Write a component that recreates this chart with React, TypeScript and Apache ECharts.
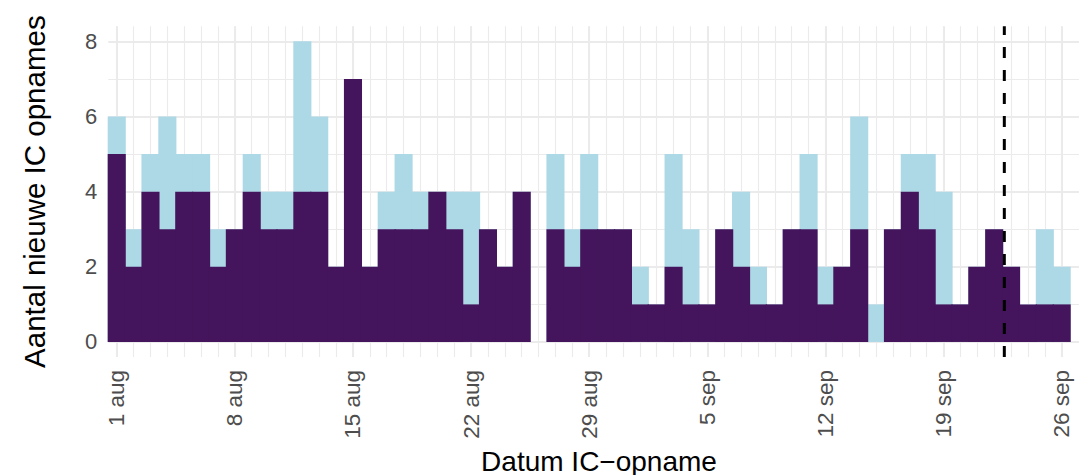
import React, { useEffect, useRef } from "react";
import * as echarts from "echarts";

const days: string[] = [
  "1 aug", "2 aug", "3 aug", "4 aug", "5 aug", "6 aug", "7 aug", "8 aug", "9 aug", "10 aug",
  "11 aug", "12 aug", "13 aug", "14 aug", "15 aug", "16 aug", "17 aug", "18 aug", "19 aug", "20 aug",
  "21 aug", "22 aug", "23 aug", "24 aug", "25 aug", "26 aug", "27 aug", "28 aug", "29 aug", "30 aug",
  "31 aug", "1 sep", "2 sep", "3 sep", "4 sep", "5 sep", "6 sep", "7 sep", "8 sep", "9 sep",
  "10 sep", "11 sep", "12 sep", "13 sep", "14 sep", "15 sep", "16 sep", "17 sep", "18 sep", "19 sep",
  "20 sep", "21 sep", "22 sep", "23 sep", "24 sep", "25 sep", "26 sep",
];

// total new ICU admissions per day (light blue top)
const totaal: number[] = [
  6, 3, 5, 6, 5, 5, 3, 3, 5, 4,
  4, 8, 6, 2, 7, 2, 4, 5, 4, 4,
  4, 4, 3, 2, 4, 0, 5, 3, 5, 3,
  3, 2, 1, 5, 3, 1, 3, 4, 2, 1,
  3, 5, 2, 2, 6, 1, 3, 5, 5, 4,
  1, 2, 3, 2, 1, 3, 2,
];

// dark purple part
const bevestigd: number[] = [
  5, 2, 4, 3, 4, 4, 2, 3, 4, 3,
  3, 4, 4, 2, 7, 2, 3, 3, 3, 4,
  3, 1, 3, 2, 4, 0, 3, 2, 3, 3,
  3, 1, 1, 2, 1, 1, 3, 2, 1, 1,
  3, 3, 1, 2, 3, 0, 3, 4, 3, 1,
  1, 2, 3, 2, 1, 1, 1,
];

const tickLabels: string[] = ["1 aug", "8 aug", "15 aug", "22 aug", "29 aug", "5 sep", "12 sep", "19 sep", "26 sep"];
const yMajor: number[] = [0, 2, 4, 6, 8];
const yMinor: number[] = [1, 3, 5, 7];
const cutoffDay = 52.6; // between 22 sep and 23 sep

export default function App() {
  const ref = useRef<HTMLDivElement>(null);

  useEffect(() => {
    if (!ref.current) return;
    const chart = echarts.init(ref.current, null, { renderer: "svg" });

    const W = 1079;
    const left = 108.3;
    const right = -10.7;
    const top = 26.3;
    const bottom = 118;
    const xMin = -0.5;
    const xMax = 57.66;
    const yMin = -0.4;
    const yMax = 8.4;
    const pxPerDay = (W - left - right) / (xMax - xMin);
    const barW = pxPerDay + 1.2;

    const tickIdx = tickLabels.map((l) => days.indexOf(l));
    const dayIdx = days.map((_, i) => i);
    const font = "'Liberation Sans', Arial, sans-serif";
    const gridColor = "#ebebeb";

    chart.setOption({
      animation: false,
      backgroundColor: "#ffffff",
      textStyle: { fontFamily: font },
      grid: {
        left,
        right,
        top,
        bottom,
        containLabel: false,
        outerBoundsMode: "none",
      },
      xAxis: [
        {
          type: "value",
          min: xMin,
          max: xMax,
          position: "bottom",
          axisLine: { show: false, onZero: false },
          axisTick: { show: false, customValues: tickIdx },
          axisLabel: {
            customValues: tickIdx,
            rotate: 90,
            margin: 13,
            fontSize: 22.5,
            color: "#4d4d4d",
            fontFamily: font,
            formatter: (v: number) => days[Math.round(v)] ?? "",
          },
          splitLine: { show: true, lineStyle: { color: gridColor, width: 2 } },
          name: "Datum IC\u2212opname",
          nameLocation: "middle",
          nameGap: 90,
          nameTextStyle: { fontSize: 28, color: "#000000", fontFamily: font },
        },
        {
          type: "value",
          min: xMin,
          max: xMax,
          position: "bottom",
          axisLine: { show: false, onZero: false },
          axisTick: { show: false, customValues: dayIdx },
          axisLabel: { show: false, customValues: dayIdx },
          splitLine: { show: true, lineStyle: { color: gridColor, width: 1.1 } },
        },
      ],
      yAxis: [
        {
          type: "value",
          min: yMin,
          max: yMax,
          position: "left",
          axisLine: { show: false, onZero: false },
          axisTick: { show: false, customValues: yMajor },
          axisLabel: {
            customValues: yMajor,
            margin: 11,
            fontSize: 22,
            color: "#4d4d4d",
            fontFamily: font,
          },
          splitLine: { show: true, lineStyle: { color: gridColor, width: 2 } },
          name: "Aantal nieuwe IC opnames",
          nameLocation: "middle",
          nameGap: 59,
          nameTextStyle: { fontSize: 29.5, color: "#000000", fontFamily: font },
        },
        {
          type: "value",
          min: yMin,
          max: yMax,
          position: "left",
          axisLine: { show: false, onZero: false },
          axisTick: { show: false, customValues: yMinor },
          axisLabel: { show: false, customValues: yMinor },
          splitLine: { show: true, lineStyle: { color: gridColor, width: 1.1 } },
        },
      ],
      series: [
        {
          type: "bar",
          name: "totaal",
          xAxisIndex: 0,
          yAxisIndex: 0,
          data: totaal.map((v, i) => [i, v]),
          barWidth: barW,
          barGap: "-100%",
          itemStyle: { color: "#add8e6" },
          silent: true,
        },
        {
          type: "bar",
          name: "bevestigd",
          xAxisIndex: 0,
          yAxisIndex: 0,
          data: bevestigd.map((v, i) => [i, v]),
          barWidth: barW,
          barGap: "-100%",
          itemStyle: { color: "#44155c" },
          silent: true,
        },
        {
          type: "line",
          xAxisIndex: 0,
          yAxisIndex: 0,
          data: [
            [cutoffDay, yMin],
            [cutoffDay, yMax],
          ],
          symbol: "none",
          showSymbol: false,
          lineStyle: { color: "#000000", width: 3, type: [11, 12] },
          z: 5,
          silent: true,
        },
      ],
    });

    return () => {
      chart.dispose();
    };
  }, []);

  return (
    <div
      ref={ref}
      style={{ position: "fixed", left: 0, top: 0, width: 1079, height: 475 }}
    />
  );
}
